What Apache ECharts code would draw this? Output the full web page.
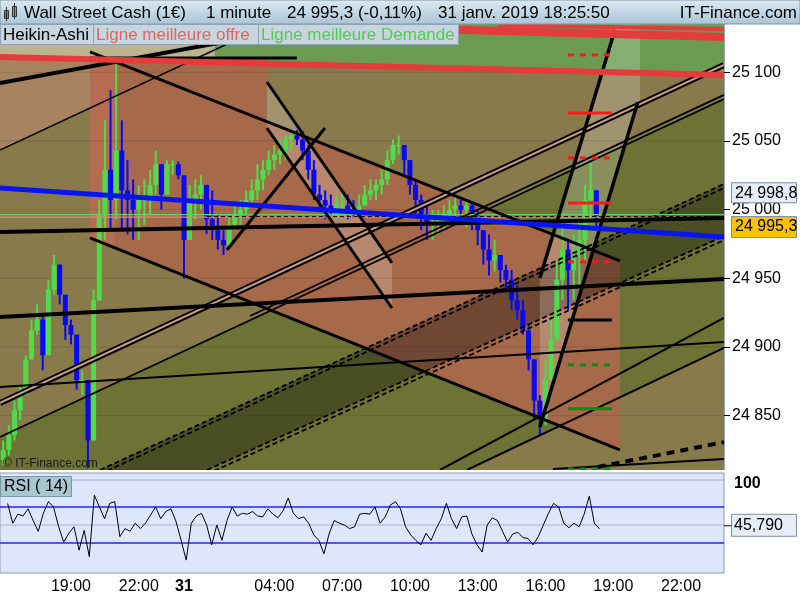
<!DOCTYPE html>
<html><head><meta charset="utf-8">
<script src="https://cdn.jsdelivr.net/npm/echarts@6/dist/echarts.min.js"></script>
<style>html,body{margin:0;padding:0;background:#fff}#c{width:800px;height:600px}</style>
</head><body><div id="c"></div>
<script>
// ---------- DATA (time = hours since 30 Jan 2019 00:00, price in points) ----------
const xRange = [15.858, 47.9];
const priceRange = [24810.5, 25135.1];
const rsiRange = [-3.33, 107.78];

const timeTicks = [19, 22, 24, 28, 31, 34, 37, 40, 43, 46];
const timeTickLabels = ['19:00', '22:00', '31', '04:00', '07:00', '10:00', '13:00', '16:00', '19:00', '22:00'];
const priceTicks = [24850, 24900, 24950, 25000, 25050, 25100];
const rsiTicks = [100];

// Heikin-Ashi price (15-minute sampling)
const candleStart = 16.0;
const candleStep = 0.25;
const firstOpen = 24818;
const closes = [24825,24836,24854,24865,24891,24912,24920,24894,24942,24960,
24938,24916,24909,24876,24876,24832,24934,24996,25029,25007,
25043,25014,25007,25000,25007,25007,25018,25033,25011,25033,
25033,25025,24978,25007,25011,25018,24993,24985,24978,24974,
24989,24996,25000,25007,25014,25022,25029,25036,25040,25043,
25051,25054,25051,25043,25029,25011,25007,25003,25000,25003,
25003,25000,24998,25003,25011,25014,25018,25022,25036,25047,
25047,25036,25018,25007,24996,24989,24989,24993,24996,25000,
25003,25000,25003,24996,24985,24971,24963,24967,24956,24949,
24934,24927,24912,24891,24861,24847,24876,24905,24949,24971,
24956,24967,24978,25007,25014,24995.3];
const highs = [24832,24843,24861,24872,24894,24920,24931,24923,24949,24967,
24956,24934,24920,24905,24883,24869,24942,25007,25065,25087,
25108,25065,25036,25022,25018,25022,25029,25043,25033,25036,
25036,25035,25025,25018,25022,25025,25018,25014,24996,24985,
24996,25003,25007,25014,25022,25033,25036,25043,25047,25051,
25054,25058,25058,25057,25047,25036,25018,25014,25011,25011,
25014,25011,25007,25011,25018,25022,25022,25029,25043,25051,
25054,25047,25036,25022,25011,25003,25000,25000,25003,25007,
25009,25007,25007,25005,25000,24985,24982,24978,24967,24960,
24956,24945,24934,24916,24891,24865,24891,24920,24963,24989,
24978,24982,24993,25018,25034,25014];
const lows = [24814,24821,24832,24847,24865,24891,24909,24883,24912,24938,
24931,24905,24902,24869,24865,24812,24832,24934,24978,24985,
24993,24985,24982,24978,24978,24989,24996,25011,25000,25014,
25025,25022,24950,24985,24993,25000,24982,24978,24971,24967,
24974,24985,24989,24996,25003,25007,25014,25025,25029,25033,
25036,25043,25047,25036,25022,25007,25000,24993,24996,24993,
24996,24993,24994,24996,25003,25007,25007,25011,25018,25033,
25040,25025,25011,24996,24985,24978,24978,24982,24985,24989,
24991,24989,24987,24985,24974,24960,24952,24955,24947,24941,
24927,24920,24909,24883,24847,24836,24843,24876,24905,24934,
24927,24934,24942,24963,24993,24987];

// RSI(14)
const rsiStart = 16.196;
const rsiStep = 0.2258;
const rsiValues = [74,52,62,60,68,55,43,63,76,70,
48,31,41,48,22,44,15,83,70,57,
74,76,37,46,43,52,46,52,61,70,
57,65,68,54,33,11,52,60,63,50,
28,50,33,55,70,60,63,62,65,60,
59,68,62,58,66,80,63,57,59,52,
39,33,18,40,55,52,50,46,48,62,
63,62,70,52,59,72,76,68,48,39,
33,28,41,33,46,57,74,57,46,59,
60,40,28,20,50,58,55,43,31,40,
42,36,35,28,37,50,63,74,70,52,
47,52,48,62,82,52,45.79];
const rsiLevels = [100, 70, 50, 30];

const lastPrice = 24995.3;
const offerPrice = 24998.8;
const changePct = -0.11;
const bidLinePrice = 24996.3;
const askLinePrice = 24994.6;

// drawn trend lines: [time1, price1, time2, price2]
const trendLines = {
  R1: [15.858, 25111.1, 47.9, 25098.0],
  R2: [26.389, 25135.1, 47.9, 25125.7],
  R3: [37.894, 25134.4, 47.9, 25131.5],
  BLUE: [15.858, 25015.8, 47.9, 24980.1],
  K1: [15.858, 24983.7, 47.9, 24993.9],
  K2: [15.858, 24921.9, 47.9, 24949.5],
  K3: [15.858, 24870.9, 47.9, 24903.7],
  K4: [40.327, 24811.3, 47.9, 24818.5],
  K5: [42.319, 24812.7, 47.9, 24830.8],
  H1: [19.840, 25110.4, 28.996, 25110.4],
  TOPTHICK: [15.858, 25092.2, 30.106, 25135.1],
  TOPTHIN: [15.858, 25043.4, 27.805, 25135.1],
  A: [15.858, 24859.3, 47.9, 25105.3],
  C: [15.858, 24834.6, 47.9, 25080.5],
  C2: [26.920, 24922.6, 47.9, 25083.5],
  F1: [35.327, 24810.5, 47.9, 24921.2],
  F2: [36.522, 24810.5, 47.9, 24899.3],
  D1: [19.840, 24979.4, 43.292, 24825.1],
  D2: [19.840, 25114.8, 43.292, 24962.7],
  D3: [27.672, 25092.9, 33.203, 24961.2],
  D4: [27.672, 25059.4, 33.203, 24928.4],
  D5: [25.902, 24970.6, 30.239, 25059.4],
  S1: [39.752, 24950.3, 43.071, 25130.8],
  S2: [39.752, 24841.8, 44.088, 25078.4],
  E1A: [20.283, 24810.5, 47.9, 25018.7],
  E1B: [20.283, 24807.5, 47.9, 25015.7],
  E2A: [25.017, 24810.5, 47.9, 24980.8],
  E2B: [25.017, 24807.5, 47.9, 24977.8],
  BID: [15.858, bidLinePrice, 47.9, bidLinePrice],
  ASK: [15.858, askLinePrice, 47.9, askLinePrice],
  LASTDASH: [25.017, 24994.9, 47.9, 24994.9]
};

// shaded zones (polygon vertices as [time, price])
const zones = {
  topKhaki: [[15.858,25135.1],[25.371,25135.1],[25.371,25108.2],[15.858,25111.1]],
  topGreen: [[25.371,25135.1],[47.9,25135.1],[47.9,25098.0],[25.371,25108.2]],
  pinkLeft: [[15.858,25111.1],[19.84,25109.7],[19.84,25074.0],[15.858,25043.4]],
  greenBelowC: [[15.858,24834.6],[47.9,25081.2],[47.9,24800],[15.858,24800]],
  oliveBelowF2: [[36.522,24810.5],[47.9,24899.3],[47.9,24800],[36.522,24800]],
  brown: [[19.84,25110.4],[27.672,25110.4],[27.672,25063.8],[43.292,24962.7],[43.292,24825.1],[19.84,24979.4]],
  salmonLeft: [[19.84,25110.4],[20.95,25110.4],[20.95,24972.9],[19.84,24979.4]],
  darkBand: [[20.283,24810.5],[47.9,25018.7],[47.9,24980.8],[25.017,24810.5]],
  lightD: [[27.672,25092.9],[33.203,24961.2],[33.203,24928.4],[27.672,25059.4]],
  lightS: [[39.752,24950.3],[43.159,25135.1],[44.177,25135.1],[44.177,25078.4],[39.752,24841.8]]
};

// target levels (short horizontal segments)
const targetSpan = [40.99, 42.94];
const targetLevels = [25112.6, 25070.4, 25037.6, 25004.9, 24962.0, 24919.7, 24887.0, 24855.0, 24811.3];

// ---------- STYLES ----------
const FONT = '"Liberation Sans", Arial, sans-serif';
const zoneColors = {
  topKhaki: '#bcb48e', topGreen: '#6b9b51', pinkLeft: '#a8835f', greenBelowC: '#6c7334',
  oliveBelowF2: '#877a4b', brown: '#a6694a', salmonLeft: 'rgba(255,120,110,0.18)', darkBand: 'rgba(0,0,0,0.32)',
  lightD: 'rgba(255,255,255,0.2)', lightS: 'rgba(255,255,255,0.2)'
};
const RED = '#e63b3b', BLK = '#000';
const DASH = [5, 3];
const lineOrder = [
  ['E1A', {stroke: BLK, lineWidth: 1.8, lineDash: DASH}],
  ['E1B', {stroke: BLK, lineWidth: 1.8, lineDash: DASH}],
  ['E2A', {stroke: BLK, lineWidth: 1.8, lineDash: DASH}],
  ['E2B', {stroke: BLK, lineWidth: 1.8, lineDash: DASH}],
  ['ASK', {stroke: '#e08878', lineWidth: 1.2}],
  ['BID', {stroke: '#5ad65a', lineWidth: 1.2}],
  ['LASTDASH', {stroke: BLK, lineWidth: 1, lineDash: [4, 3]}],
  ['A', {stroke: BLK, lineWidth: 6}],
  ['A', {stroke: '#c9a189', lineWidth: 2}],
  ['C', {stroke: BLK, lineWidth: 1.8}],
  ['C2', {stroke: BLK, lineWidth: 1.8}],
  ['F1', {stroke: BLK, lineWidth: 2}],
  ['F2', {stroke: BLK, lineWidth: 2}],
  ['K3', {stroke: BLK, lineWidth: 2}],
  ['K4', {stroke: BLK, lineWidth: 2}],
  ['K5', {stroke: BLK, lineWidth: 4, lineDash: [8, 6]}],
  ['TOPTHIN', {stroke: BLK, lineWidth: 1.5}],
  ['TOPTHICK', {stroke: BLK, lineWidth: 4}],
  ['H1', {stroke: BLK, lineWidth: 3}],
  ['D1', {stroke: BLK, lineWidth: 3}],
  ['D2', {stroke: BLK, lineWidth: 3}],
  ['D3', {stroke: BLK, lineWidth: 3}],
  ['D4', {stroke: BLK, lineWidth: 3}],
  ['D5', {stroke: BLK, lineWidth: 3}],
  ['S1', {stroke: BLK, lineWidth: 3.5}],
  ['S2', {stroke: BLK, lineWidth: 3.5}],
  ['K1', {stroke: BLK, lineWidth: 4}],
  ['K2', {stroke: BLK, lineWidth: 4}],
  ['BLUE', {stroke: '#0a14f0', lineWidth: 5}],
  ['R1', {stroke: RED, lineWidth: 6}],
  ['R2', {stroke: RED, lineWidth: 8}],
  ['R3', {stroke: RED, lineWidth: 4}]
];
const targetStyles = [
  {stroke: '#ff1a1a', lineWidth: 3, lineDash: [6, 6]},
  {stroke: '#ff1a1a', lineWidth: 3},
  {stroke: '#ff1a1a', lineWidth: 3, lineDash: [6, 6]},
  {stroke: '#ff1a1a', lineWidth: 3},
  {stroke: '#ff1a1a', lineWidth: 3, lineDash: [6, 6]},
  {stroke: '#000', lineWidth: 3},
  {stroke: '#108a10', lineWidth: 3, lineDash: [6, 6]},
  {stroke: '#108a10', lineWidth: 3},
  {stroke: '#108a10', lineWidth: 3, lineDash: [6, 6]}
];
const rsiLevelStyles = [
  {color: '#a9adc4', width: 1},
  {color: '#2222ff', width: 1.3},
  {color: '#b0b4ca', width: 1},
  {color: '#2222ff', width: 1.3}
];

// ---------- BUILD ----------
function fmtThousands(v, dec) {
  const s = v.toFixed(dec);
  const parts = s.split('.');
  const int = parts[0].replace(/\B(?=(\d{3})+$)/g, ' ');
  return parts.length > 1 ? int + ',' + parts[1] : int;
}
const candleData = closes.map((c, i) => {
  const o = i ? closes[i - 1] : firstOpen;
  return [candleStart + i * candleStep, o, c, Math.min(lows[i], o, c), Math.max(highs[i], o, c)];
});
const rsiData = rsiValues.map((v, i) => [rsiStart + i * rsiStep, v]);
const zoneKeys = Object.keys(zones);

const chart = echarts.init(document.getElementById('c'), null, {renderer: 'canvas', width: 800, height: 600});

const rsiLevelSeries = rsiLevels.map((v, i) => ({
  type: 'line', xAxisIndex: 1, yAxisIndex: 1, silent: true, showSymbol: false, z: 2,
  data: [[xRange[0], v], [xRange[1], v]],
  lineStyle: {color: rsiLevelStyles[i].color, width: rsiLevelStyles[i].width}
}));

const option = {
  animation: false,
  backgroundColor: '#ffffff',
  grid: [
    {left: 0, top: 24, width: 724, height: 446, show: true, backgroundColor: '#887a4a', borderWidth: 0, outerBoundsMode: 'none'},
    {left: 0, top: 473, width: 724, height: 100, show: true, backgroundColor: '#dde6fb', borderColor: '#8a9aaa', borderWidth: 1, outerBoundsMode: 'none'}
  ],
  xAxis: [
    {type: 'value', gridIndex: 0, min: xRange[0], max: xRange[1], axisLabel: {show: false}, axisTick: {show: false}, axisLine: {show: false}, splitLine: {show: false}},
    {type: 'value', gridIndex: 1, min: xRange[0], max: xRange[1], axisLine: {show: false}, axisTick: {show: false}, splitLine: {show: false},
      axisLabel: {customValues: timeTicks, margin: 6, fontSize: 16, fontFamily: FONT, color: '#000',
        formatter: v => { const t = timeTickLabels[timeTicks.indexOf(v)]; return t === '31' ? '{b|31}' : t; },
        rich: {b: {fontWeight: 'bold', fontSize: 16, fontFamily: FONT, color: '#000'}}}}
  ],
  yAxis: [
    {type: 'value', gridIndex: 0, position: 'right', min: priceRange[0], max: priceRange[1],
      axisLine: {show: true, lineStyle: {color: '#9aa8b8'}},
      axisTick: {show: true, customValues: priceTicks, length: 6, lineStyle: {color: '#000'}},
      axisLabel: {customValues: priceTicks, margin: 8, fontSize: 16, fontFamily: FONT, color: '#000', formatter: v => fmtThousands(v, 0)},
      splitLine: {show: false}},
    {type: 'value', gridIndex: 1, position: 'right', min: rsiRange[0], max: rsiRange[1],
      axisLine: {show: false}, axisTick: {show: false}, axisLabel: {show: false}, splitLine: {show: false}}
  ],
  series: [
    { // shaded zones
      type: 'custom', xAxisIndex: 0, yAxisIndex: 0, clip: true, silent: true, z: 1,
      data: zoneKeys.map((k, i) => [i]),
      renderItem: (params, api) => {
        const key = zoneKeys[params.dataIndex];
        return {type: 'polygon', shape: {points: zones[key].map(p => api.coord(p))}, style: {fill: zoneColors[key]}};
      }
    },
    { // faint price grid
      type: 'custom', xAxisIndex: 0, yAxisIndex: 0, clip: true, silent: true, z: 2,
      data: priceTicks.map(p => [p]),
      renderItem: (params, api) => {
        const a = api.coord([xRange[0], api.value(0)]), b = api.coord([xRange[1], api.value(0)]);
        return {type: 'line', shape: {x1: a[0], y1: a[1], x2: b[0], y2: b[1]}, style: {stroke: 'rgba(0,0,0,0.12)', lineWidth: 1}};
      }
    },
    { // Heikin-Ashi candles
      type: 'custom', xAxisIndex: 0, yAxisIndex: 0, clip: true, silent: true, z: 3,
      dimensions: ['t', 'o', 'c', 'l', 'h'], encode: {x: 0, y: [1, 2, 3, 4]},
      data: candleData,
      renderItem: (params, api) => {
        const t = api.value(0), o = api.value(1), c = api.value(2), l = api.value(3), h = api.value(4);
        const pO = api.coord([t, o]), pC = api.coord([t, c]), pL = api.coord([t, l]), pH = api.coord([t, h]);
        const col = c >= o ? '#4fdc4a' : '#0a0af2';
        return {type: 'group', children: [
          {type: 'line', shape: {x1: pH[0], y1: pH[1], x2: pL[0], y2: pL[1]}, style: {stroke: col, lineWidth: 2}},
          {type: 'rect', shape: {x: pO[0] - 2.5, y: Math.min(pO[1], pC[1]), width: 5, height: Math.max(1, Math.abs(pO[1] - pC[1]))}, style: {fill: col}}
        ]};
      }
    },
    { // trend lines
      type: 'custom', xAxisIndex: 0, yAxisIndex: 0, clip: true, silent: true, z: 4,
      data: lineOrder.map((e, i) => [i]),
      renderItem: (params, api) => {
        const e = lineOrder[params.dataIndex];
        const L = trendLines[e[0]];
        const a = api.coord([L[0], L[1]]), b = api.coord([L[2], L[3]]);
        return {type: 'line', shape: {x1: a[0], y1: a[1], x2: b[0], y2: b[1]}, style: Object.assign({fill: null}, e[1])};
      }
    },
    { // target levels
      type: 'custom', xAxisIndex: 0, yAxisIndex: 0, clip: true, silent: true, z: 5,
      data: targetLevels.map(p => [p]),
      renderItem: (params, api) => {
        const p = api.value(0);
        const a = api.coord([targetSpan[0], p]), b = api.coord([targetSpan[1], p]);
        return {type: 'line', shape: {x1: a[0], y1: a[1], x2: b[0], y2: b[1]}, style: Object.assign({fill: null}, targetStyles[params.dataIndex])};
      }
    }
  ].concat(rsiLevelSeries).concat([
    { // RSI
      type: 'line', xAxisIndex: 1, yAxisIndex: 1, data: rsiData, showSymbol: false, silent: true,
      lineStyle: {color: '#000', width: 1}, z: 3
    }
  ])
};
chart.setOption(option);

// ---------- TEXT / OVERLAYS ----------
const yOffer = chart.convertToPixel({yAxisIndex: 0}, offerPrice);
const yLast = chart.convertToPixel({yAxisIndex: 0}, lastPrice);
const yRsi = chart.convertToPixel({yAxisIndex: 1}, rsiValues[rsiValues.length - 1]);
const yRsiTop = chart.convertToPixel({yAxisIndex: 1}, rsiTicks[0]);
const txt = (x, y, text, o) => ({type: 'text', x: x, y: y, z: 100, style: Object.assign({text: text, font: '16px ' + FONT, fill: '#000', verticalAlign: 'middle'}, o || {})});
const box = (x, y, w, h, fill, stroke) => ({type: 'rect', z: 99, shape: {x: x, y: y, width: w, height: h}, style: {fill: fill, stroke: stroke, lineWidth: 1}});
const H17 = '17px ' + FONT;

chart.setOption({graphic: [
  {type: 'rect', z: 98, shape: {x: 0, y: 0, width: 800, height: 24},
    style: {fill: new echarts.graphic.LinearGradient(0, 0, 0, 1, [{offset: 0, color: '#dde9f2'}, {offset: 1, color: '#a9c5d7'}]), stroke: '#7f97a8', lineWidth: 1}},
  // icon
  {type: 'line', z: 100, shape: {x1: 6.5, y1: 7, x2: 6.5, y2: 21}, style: {stroke: '#333', lineWidth: 1}},
  box(4.5, 10.5, 4, 8, '#e84a4a', '#333'),
  {type: 'line', z: 100, shape: {x1: 14.5, y1: 3, x2: 14.5, y2: 19}, style: {stroke: '#333', lineWidth: 1}},
  box(12.5, 6.5, 4, 10, '#3fcf3f', '#333'),
  txt(24, 13, 'Wall Street Cash (1€)', {font: H17}),
  txt(206, 13, '1 minute', {font: H17}),
  txt(287, 13, fmtThousands(lastPrice, 1) + ' (' + changePct.toFixed(2).replace('.', ',') + '%)', {font: H17}),
  txt(438, 13, '31 janv. 2019 18:25:50', {font: H17}),
  txt(797, 13, 'IT-Finance.com', {align: 'right', font: H17}),
  // legend
  box(0.5, 24.5, 458, 20, '#c7d5de', '#8fa3b2'),
  {type: 'line', z: 100, shape: {x1: 93.5, y1: 25, x2: 93.5, y2: 44}, style: {stroke: '#8fa3b2', lineWidth: 1}},
  {type: 'line', z: 100, shape: {x1: 258.5, y1: 25, x2: 258.5, y2: 44}, style: {stroke: '#8fa3b2', lineWidth: 1}},
  txt(3, 35, 'Heikin-Ashi', {font: H17}),
  txt(96, 35, 'Ligne meilleure offre', {font: H17, fill: '#e26666'}),
  txt(261, 35, 'Ligne meilleure Demande', {font: H17, fill: '#52cc52'}),
  // watermark
  txt(3, 464, '© IT-Finance.com', {font: '12px ' + FONT, fill: '#1a1a1a'}),
  // price boxes
  box(731.5, yOffer - 28.5, 65, 20, '#e6edf8', '#7d8fa0'),
  txt(735, yOffer - 18, fmtThousands(offerPrice, 1)),
  box(731.5, yLast + 0.5, 65, 21, '#f7c200', '#7d8fa0'),
  txt(735, yLast + 11, fmtThousands(lastPrice, 1)),
  // RSI label & value
  box(0.5, 476.5, 71, 20, '#a8c6cf', '#7a98a4'),
  txt(4, 487, 'RSI ( 14)'),
  txt(734, yRsiTop + 4, String(rsiTicks[0]), {font: 'bold 16px ' + FONT}),
  {type: 'line', z: 100, shape: {x1: 724, y1: yRsi - 3, x2: 731, y2: yRsi - 3}, style: {stroke: '#000', lineWidth: 1}},
  box(731.5, yRsi - 14.5, 65, 22, '#e6edf8', '#7d8fa0'),
  txt(734, yRsi - 3, rsiValues[rsiValues.length - 1].toFixed(3).replace('.', ','))
]});
</script></body></html>
